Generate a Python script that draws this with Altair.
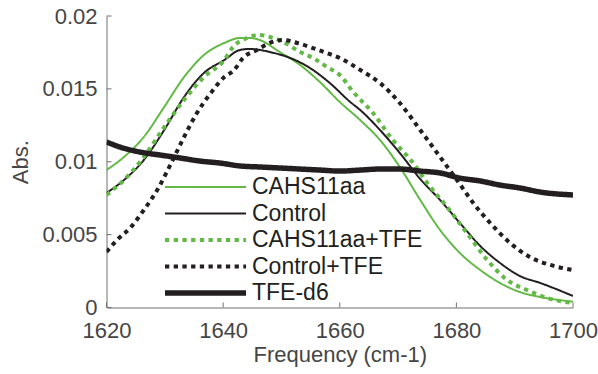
import altair as alt
import pandas as pd

# ---- data ----
series = ["CAHS11aa", "Control", "CAHS11aa+TFE", "Control+TFE", "TFE-d6"]
colors = ["#62b946", "#231f20", "#62b946", "#231f20", "#231f20"]
widths = [2, 2, 4, 4, 5.5]
dashes = [[1, 0], [1, 0], [4.3, 4.4], [4.3, 4.4], [1, 0]]

xticks = [1620, 1640, 1660, 1680, 1700]
yticks = [0, 0.005, 0.01, 0.015, 0.02]

cahs_x = [1620, 1623.0, 1626.4, 1629.9, 1633.3, 1636.7, 1640.2, 1642.9, 1644.6, 1646.3,
          1649.7, 1653.2, 1656.6, 1660.0, 1663.5, 1666.9, 1670.3, 1673.8, 1677.2, 1680.6,
          1684.1, 1687.5, 1690.9, 1694.4, 1700]
cahs_y = [0.00943, 0.01033, 0.0117, 0.01376, 0.01581, 0.01732, 0.01815, 0.01849, 0.01849, 0.01835,
          0.01753, 0.01664, 0.01547, 0.0141, 0.01286, 0.01149, 0.00964, 0.00738, 0.00532, 0.00374,
          0.00257, 0.00168, 0.00106, 0.00072, 0.0004]

ctrl_x = [1620, 1623.0, 1626.4, 1629.9, 1633.3, 1636.7, 1640.2, 1642.9, 1644.6, 1646.3,
          1648.0, 1651.5, 1654.9, 1658.3, 1661.8, 1663.5, 1666.9, 1670.3, 1673.8, 1677.2,
          1680.6, 1684.1, 1687.5, 1690.9, 1694.4, 1700]
ctrl_y = [0.00786, 0.00875, 0.01012, 0.01218, 0.01444, 0.01609, 0.01698, 0.01767, 0.01774, 0.01767,
          0.01753, 0.01712, 0.01643, 0.0154, 0.0141, 0.01355, 0.01218, 0.0106, 0.00882, 0.00738,
          0.0058, 0.00422, 0.00305, 0.00216, 0.00168, 0.00079]

cahs_tfe_x = [1620, 1623.0, 1626.4, 1629.9, 1633.3, 1636.7, 1640.2, 1641.7, 1644.1, 1646.0,
              1648.0, 1650.3, 1653.2, 1655.4, 1657.8, 1660.0, 1662.3, 1665.7, 1669.1, 1672.6,
              1675.0, 1678.4, 1681.8, 1685.3, 1688.7, 1692.1, 1695.6, 1700]
cahs_tfe_y = [0.00772, 0.00875, 0.01033, 0.01238, 0.01424, 0.01581, 0.01698, 0.01787, 0.01849, 0.0187,
              0.01856, 0.01822, 0.01753, 0.01712, 0.0165, 0.01595, 0.01479, 0.01334, 0.01149, 0.00991,
              0.00854, 0.0069, 0.00511, 0.00326, 0.00189, 0.0012, 0.00065, 0.00031]

ctrl_tfe_x = [1620, 1621.8, 1624.2, 1626.4, 1628.7, 1631.1, 1633.3, 1635.5, 1637.9, 1640.2,
              1641.9, 1643.4, 1645.8, 1648.0, 1650.3, 1652.7, 1655.4, 1657.8, 1660.0, 1663.5,
              1666.9, 1670.3, 1673.8, 1677.2, 1680.1, 1682.9, 1685.8, 1689.2, 1692.6, 1696.1, 1700]
ctrl_tfe_y = [0.00381, 0.00463, 0.00552, 0.00669, 0.00806, 0.00991, 0.0117, 0.01334, 0.01472, 0.01581,
              0.0163, 0.01712, 0.01767, 0.01815, 0.01835, 0.01815, 0.0178, 0.01746, 0.01712, 0.0163,
              0.0154, 0.01403, 0.01218, 0.01033, 0.00875, 0.00717, 0.0058, 0.00443, 0.00346, 0.00292, 0.00257]

tfe_x = [1620, 1622.3, 1625.7, 1629.2, 1632.6, 1636.0, 1639.5, 1642.9, 1646.3, 1649.8,
         1653.2, 1656.6, 1660.0, 1663.5, 1666.9, 1670.3, 1673.8, 1677.2, 1680.6, 1684.1,
         1687.5, 1690.9, 1694.4, 1700]
tfe_y = [0.01136, 0.01101, 0.01067, 0.01046, 0.01026, 0.01005, 0.00991, 0.00971, 0.00964, 0.00957,
         0.0095, 0.00943, 0.00936, 0.00943, 0.0095, 0.0095, 0.00936, 0.00923, 0.00888, 0.00868,
         0.0084, 0.0082, 0.00792, 0.00772]

frames = []
for name, xs, ys in [
    ("CAHS11aa", cahs_x, cahs_y),
    ("Control", ctrl_x, ctrl_y),
    ("CAHS11aa+TFE", cahs_tfe_x, cahs_tfe_y),
    ("Control+TFE", ctrl_tfe_x, ctrl_tfe_y),
    ("TFE-d6", tfe_x, tfe_y),
]:
    frames.append(pd.DataFrame({"freq": xs, "abs": ys, "series": name,
                                "w": widths[series.index(name)]}))
df = pd.concat(frames, ignore_index=True)

# ---- layout ----
W, H = 466.5, 291.5
FONT = "Liberation Sans"
AXIS_COLOR = "#707070"
LABEL_COLOR = "#454545"

# legend symbol stroke widths follow the series widths
width_expr = "2"
for s, w in zip(series, widths):
    width_expr = f"datum.value === '{s}' ? {w} : ({width_expr})"

legend = alt.Legend(
    title=None, orient="none", legendX=58.5, legendY=159,
    symbolType="stroke", symbolSize=6561, labelFontSize=23, labelFont=FONT,
    labelColor="#231f20", labelOffset=35, symbolOffset=29, clipHeight=24, rowPadding=2.5,
    padding=0, labelLimit=400,
    symbolStrokeWidth=alt.ExprRef(expr=width_expr),
)

xaxis = alt.Axis(values=xticks, format="d", title="Frequency (cm-1)", grid=False,
                 tickSize=0, labelPadding=13, titlePadding=3, labelFlush=False,
                 domainColor=AXIS_COLOR, labelColor=LABEL_COLOR, titleColor=LABEL_COLOR,
                 labelFont=FONT, titleFont=FONT, labelFontSize=22, titleFontSize=22,
                 titleFontWeight="normal")
yaxis = alt.Axis(values=yticks, format="~g", title="Abs.", grid=False,
                 tickSize=0, labelPadding=9.5, titlePadding=9, labelFlush=False,
                 domainColor=AXIS_COLOR, labelColor=LABEL_COLOR, titleColor=LABEL_COLOR,
                 labelFont=FONT, titleFont=FONT, labelFontSize=22, titleFontSize=22,
                 titleFontWeight="normal")
xscale = alt.Scale(domain=[1620, 1700], nice=False, zero=False)
yscale = alt.Scale(domain=[0, 0.02], nice=False)

lines = alt.Chart(df).mark_line(interpolate="monotone", clip=True).encode(
    x=alt.X("freq:Q", scale=xscale, axis=xaxis),
    y=alt.Y("abs:Q", scale=yscale, axis=yaxis),
    color=alt.Color("series:N", sort=series,
                    scale=alt.Scale(domain=series, range=colors), legend=legend),
    strokeDash=alt.StrokeDash("series:N", sort=series,
                              scale=alt.Scale(domain=series, range=dashes), legend=legend),
    strokeWidth=alt.StrokeWidth("w:Q", scale=None, legend=None),
)

xt = alt.Chart(pd.DataFrame({"t": xticks})).mark_rule(color=AXIS_COLOR, strokeWidth=1).encode(
    x=alt.X("t:Q", scale=xscale, axis=xaxis), y=alt.value(H), y2=alt.value(H - 5))
yt = alt.Chart(pd.DataFrame({"t": yticks})).mark_rule(color=AXIS_COLOR, strokeWidth=1).encode(
    y=alt.Y("t:Q", scale=yscale, axis=yaxis), x=alt.value(0), x2=alt.value(5))

chart = alt.layer(lines, xt, yt).properties(
    width=W, height=H,
    padding={"left": 106.5, "top": 16, "right": 24.5, "bottom": 66.5},
    autosize=alt.AutoSizeParams(type="none"),
    background="white",
).configure_view(stroke=None)

chart.save("out.html", embed_options={"renderer": "svg", "actions": False})
